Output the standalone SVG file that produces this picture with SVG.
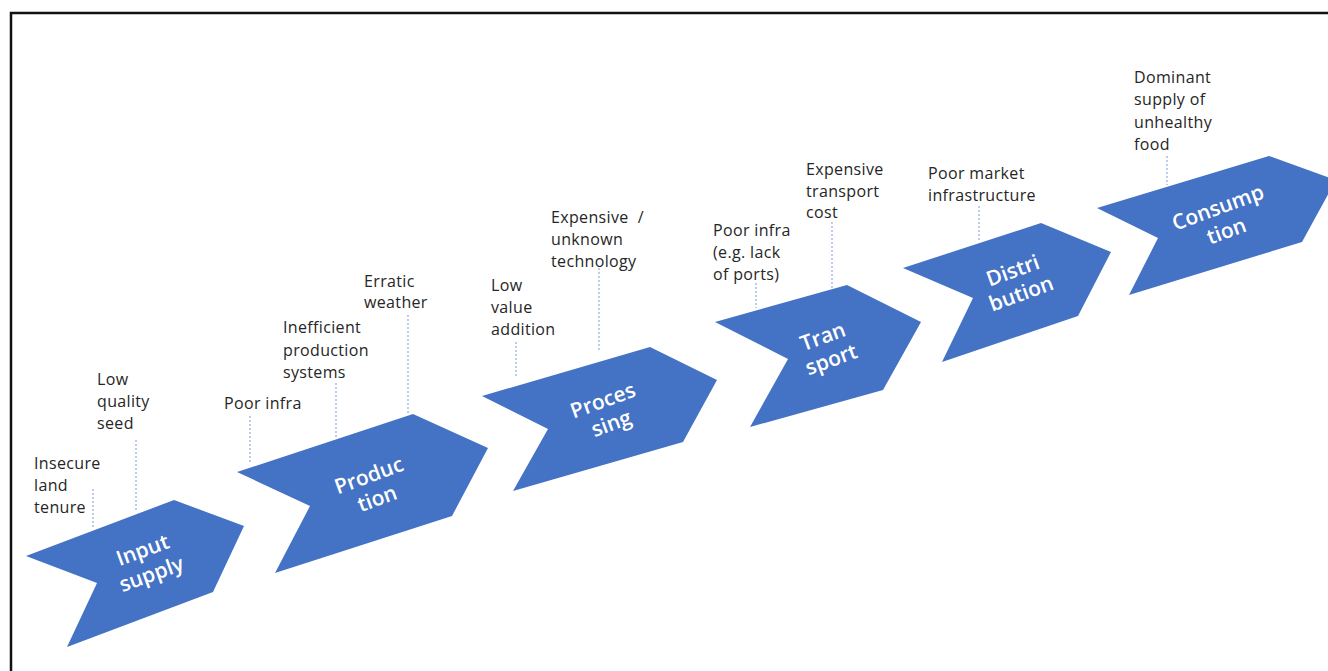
<svg xmlns="http://www.w3.org/2000/svg" width="1328" height="671" viewBox="0 0 1328 671">
  <style>
    .frame { fill: none; stroke: #111; stroke-width: 2.5; }
    .step { fill: #4472C4; }
    .step-label { font-family: "Open Sans", "Noto Sans", sans-serif; font-weight: 600; font-size: 21px; fill: #ffffff; text-anchor: middle; }
    .note { font-family: "Open Sans", "Noto Sans", sans-serif; font-size: 16px; letter-spacing: 0.35px; fill: #262626; }
    .leader { stroke: #8FAADC; stroke-width: 1.2; stroke-dasharray: 2 2; fill: none; }
  </style>

  <rect width="1328" height="671" fill="#ffffff"/>
  <rect class="frame" x="11" y="13" width="1340" height="690"/>

  <!-- dotted leaders from issue notes down to their value-chain step -->
  <g id="connectors">
    <line class="leader" x1="93" y1="489" x2="93" y2="527"/>
    <line class="leader" x1="136" y1="440" x2="136" y2="512"/>
    <line class="leader" x1="250" y1="416" x2="250" y2="464"/>
    <line class="leader" x1="336" y1="383" x2="336" y2="437"/>
    <line class="leader" x1="408" y1="315" x2="408" y2="414"/>
    <line class="leader" x1="516" y1="342" x2="516" y2="378"/>
    <line class="leader" x1="599" y1="268" x2="599" y2="352"/>
    <line class="leader" x1="756" y1="283" x2="756" y2="308"/>
    <line class="leader" x1="832" y1="222" x2="832" y2="288"/>
    <line class="leader" x1="979" y1="206" x2="979" y2="241"/>
    <line class="leader" x1="1167" y1="156" x2="1167" y2="185"/>
  </g>

  <!-- value-chain steps -->
  <g id="input-supply">
    <polygon class="step" points="26,556 174,500 244,526 213,592 67,647 97,583"/>
    <text class="step-label" transform="translate(147,562) rotate(-20)"><tspan x="0" y="-5.5">Input</tspan><tspan x="0" y="20">supply</tspan></text>
  </g>
  <g id="production">
    <polygon class="step" points="237,472 413,414 488,448 452,516 275,573 310,506"/>
    <text class="step-label" transform="translate(373,487) rotate(-20)"><tspan x="0" y="-5">Produc</tspan><tspan x="0" y="19.5">tion</tspan></text>
  </g>
  <g id="processing">
    <polygon class="step" points="482,396 650,347 717,380 683,442 513,491 548,429"/>
    <text class="step-label" transform="translate(607,412) rotate(-20)"><tspan x="0" y="-5">Proces</tspan><tspan x="0" y="19.5">sing</tspan></text>
  </g>
  <g id="transport">
    <polygon class="step" points="715,322 847,285 921,322 883,390 750,427 788,359"/>
    <text class="step-label" transform="translate(827,348) rotate(-20)"><tspan x="0" y="-5">Tran</tspan><tspan x="0" y="19.5">sport</tspan></text>
  </g>
  <g id="distribution">
    <polygon class="step" points="903,268 1041,223 1111,252 1078,316 942,362 973,298"/>
    <text class="step-label" transform="translate(1017,282) rotate(-20)"><tspan x="0" y="-5">Distri</tspan><tspan x="0" y="19.5">bution</tspan></text>
  </g>
  <g id="consumption">
    <polygon class="step" points="1097,208 1269,156 1336,180 1302,242 1129,295 1158,238"/>
    <text class="step-label" transform="translate(1222,219) rotate(-20)"><tspan x="0" y="-5">Consump</tspan><tspan x="0" y="20">tion</tspan></text>
  </g>

  <!-- issue notes -->
  <g id="note-insecure-land">
    <text class="note"><tspan x="34" y="469">Insecure</tspan><tspan x="34" y="491">land</tspan><tspan x="34" y="513">tenure</tspan></text>
  </g>
  <g id="note-seed">
    <text class="note"><tspan x="97" y="385">Low</tspan><tspan x="97" y="407">quality</tspan><tspan x="97" y="429">seed</tspan></text>
  </g>
  <g id="note-poor-infra-production">
    <text class="note" x="224" y="409">Poor infra</text>
  </g>
  <g id="note-inefficient">
    <text class="note"><tspan x="283" y="333">Inefficient</tspan><tspan x="283" y="356">production</tspan><tspan x="283" y="378">systems</tspan></text>
  </g>
  <g id="note-weather">
    <text class="note"><tspan x="364" y="287">Erratic</tspan><tspan x="364" y="308">weather</tspan></text>
  </g>
  <g id="note-value-addition">
    <text class="note"><tspan x="491" y="291">Low</tspan><tspan x="491" y="313">value</tspan><tspan x="491" y="335">addition</tspan></text>
  </g>
  <g id="note-technology">
    <text class="note"><tspan x="551" y="223">Expensive&#160; /</tspan><tspan x="551" y="245">unknown</tspan><tspan x="551" y="267">technology</tspan></text>
  </g>
  <g id="note-ports">
    <text class="note"><tspan x="713" y="236">Poor infra</tspan><tspan x="713" y="258">(e.g. lack</tspan><tspan x="713" y="280">of ports)</tspan></text>
  </g>
  <g id="note-transport-cost">
    <text class="note"><tspan x="806" y="175">Expensive</tspan><tspan x="806" y="197">transport</tspan><tspan x="806" y="218">cost</tspan></text>
  </g>
  <g id="note-market">
    <text class="note"><tspan x="928" y="179">Poor market</tspan><tspan x="928" y="201">infrastructure</tspan></text>
  </g>
  <g id="note-unhealthy-food">
    <text class="note"><tspan x="1134" y="83">Dominant</tspan><tspan x="1134" y="105">supply of</tspan><tspan x="1134" y="128">unhealthy</tspan><tspan x="1134" y="150">food</tspan></text>
  </g>
</svg>
